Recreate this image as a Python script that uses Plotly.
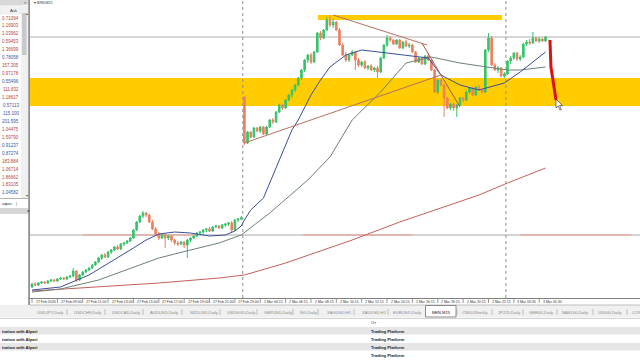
import plotly.graph_objects as go

# ---------------- data: BRN,M15 candles (price in chart points) ----------------
bar_open = [11, 14, 13, 15, 16, 15, 17, 18, 17, 19,
            20, 19, 21, 22, 27, 18, 23, 26, 28, 30,
            33, 36, 40, 43, 41, 46, 48, 51, 49, 54,
            55, 57, 60, 68, 76, 82, 85, 83, 76, 69,
            64, 60, 63, 60, 62, 58, 55, 54, 56, 53,
            58, 60, 62, 65, 66, 68, 69, 67, 71, 72,
            70, 73, 74, 75, 68, 78, 79, 201, 155, 166,
            161, 170, 167, 171, 164, 171, 178, 176, 186, 193,
            190, 198, 203, 208, 213, 220, 228, 238, 243, 236,
            246, 265, 260, 268, 278, 273, 276, 268, 253, 243,
            238, 243, 246, 238, 233, 236, 230, 232, 228, 230,
            226, 240, 253, 260, 258, 254, 258, 250, 256, 252,
            253, 246, 236, 240, 234, 242, 238, 228, 206, 218,
            213, 200, 190, 194, 190, 193, 200, 198, 206, 210,
            203, 211, 208, 206, 248, 260, 233, 228, 230, 222,
            224, 237, 240, 245, 239, 241, 254, 256, 255, 260,
            257, 259, 257]
bar_high = [15, 16, 16, 17, 17, 18, 19, 19, 20, 21,
            21, 22, 23, 30, 28, 24, 27, 29, 31, 34,
            37, 41, 44, 45, 47, 49, 52, 53, 55, 56,
            58, 61, 69, 77, 83, 87, 86, 84, 78, 71,
            66, 65, 64, 63, 63, 59, 57, 57, 57, 59,
            61, 63, 66, 67, 69, 70, 71, 72, 73, 73,
            74, 75, 76, 77, 79, 80, 82, 202, 167, 167,
            171, 171, 172, 172, 172, 179, 180, 187, 194, 194,
            199, 204, 209, 214, 221, 229, 239, 244, 245, 247,
            266, 267, 269, 281, 283, 279, 277, 270, 255, 246,
            244, 248, 247, 240, 237, 238, 233, 234, 231, 232,
            241, 254, 263, 262, 259, 259, 259, 257, 258, 255,
            254, 247, 241, 241, 243, 245, 239, 229, 219, 220,
            214, 201, 195, 195, 194, 201, 201, 207, 211, 211,
            212, 213, 209, 249, 265, 262, 235, 232, 231, 226,
            238, 242, 246, 246, 243, 255, 258, 259, 266, 261,
            261, 260, 262]
bar_low = [10, 12, 12, 14, 14, 14, 16, 16, 16, 18,
           18, 18, 20, 21, 16, 17, 22, 25, 27, 29,
           32, 35, 38, 40, 40, 44, 47, 48, 48, 52,
           54, 56, 59, 67, 75, 80, 81, 75, 68, 63,
           58, 59, 50, 58, 56, 53, 52, 53, 50, 40,
           56, 59, 61, 63, 64, 66, 66, 66, 70, 69,
           69, 71, 72, 66, 67, 76, 78, 153, 154, 160,
           160, 166, 165, 163, 163, 170, 174, 175, 185, 188,
           189, 197, 200, 206, 212, 218, 226, 235, 234, 235,
           245, 258, 259, 267, 271, 270, 267, 252, 242, 236,
           236, 242, 228, 231, 231, 229, 228, 227, 226, 220,
           225, 239, 251, 256, 253, 253, 249, 249, 251, 250,
           245, 235, 235, 233, 233, 237, 227, 205, 204, 212,
           181, 189, 188, 187, 181, 192, 196, 197, 204, 202,
           202, 207, 205, 205, 246, 232, 227, 225, 221, 220,
           223, 234, 238, 237, 237, 240, 252, 253, 254, 256,
           255, 256, 256]
bar_close = [14, 13, 15, 16, 15, 17, 18, 17, 19, 20,
             19, 21, 22, 27, 18, 23, 26, 28, 30, 33,
             36, 40, 43, 41, 46, 48, 51, 49, 54, 55,
             57, 60, 68, 76, 82, 85, 83, 76, 69, 64,
             60, 63, 60, 62, 58, 55, 54, 56, 53, 58,
             60, 62, 65, 66, 68, 69, 67, 71, 72, 70,
             73, 74, 75, 68, 78, 79, 80, 155, 166, 161,
             170, 167, 171, 164, 171, 178, 176, 186, 193, 190,
             198, 203, 208, 213, 220, 228, 238, 243, 236, 246,
             265, 260, 268, 278, 273, 276, 268, 253, 243, 238,
             243, 246, 238, 233, 236, 230, 232, 228, 230, 226,
             240, 253, 260, 258, 254, 258, 250, 256, 252, 253,
             246, 236, 240, 234, 242, 238, 228, 206, 218, 213,
             200, 190, 194, 190, 193, 200, 198, 206, 210, 203,
             211, 208, 206, 248, 260, 233, 228, 230, 222, 224,
             237, 240, 245, 239, 241, 254, 256, 255, 260, 257,
             259, 257, 261]
bar_index = list(range(len(bar_close)))

# moving averages (read at sample bars)
ma_fast_idx = [0, 9, 18, 27, 32, 36, 40, 45, 50, 56, 61, 64, 66, 67, 69, 73, 78, 82, 84, 88,
               91, 94, 99, 104, 112, 118, 125, 129, 135, 141, 149, 154, 162]
ma_fast_val = [8, 11, 23, 40, 50, 58, 64, 66, 65, 62, 63, 67, 72, 78, 88, 100, 138, 168, 178, 203,
               218, 231, 243, 248, 245, 243, 240, 223, 213, 208, 215, 226, 246]
ma_mid_idx = [0, 9, 21, 31, 40, 50, 59, 66, 75, 87, 94, 101, 110, 118, 126, 135, 143, 150, 154, 162]
ma_mid_val = [6, 9, 18, 30, 40, 48, 55, 63, 85, 118, 141, 178, 206, 235, 241, 235, 231, 228, 228, 231]
ma_slow_idx = [0, 21, 40, 59, 67, 80, 89, 101, 116, 129, 141, 150, 162]
ma_slow_val = [7, 11, 15, 20, 23, 35, 45, 58, 76, 90, 103, 115, 130]

# drawn objects
trend_up_idx, trend_up_val = [67, 129], [155, 223]
trend_top_idx, trend_top_val = [95, 124.6], [283, 253]
trend_steep_idx, trend_steep_val = [123, 135], [255, 191]
zone_band = [192, 220]
zone_top_idx, zone_top_val = [90.2, 148.3], [278, 283]
level_gray = 63
level_red_segments = [(16, 52), (85.5, 120), (154, 189)]
arrow_idx = [163.4, 163.7, 165.3]
arrow_val = [258, 231, 198]
session_breaks = [66.5, 149.5]

time_tick_idx = [0, 8, 16, 24, 32, 40, 48, 56, 64, 72, 80, 88, 96, 104, 112, 120, 128, 136, 144, 152, 160]
time_tick_labels = ["27 Feb 2026", "27 Feb 09:00", "27 Feb 11:00", "27 Feb 13:00", "27 Feb 15:00",
                    "27 Feb 17:00", "27 Feb 19:00", "27 Feb 21:00", "27 Feb 23:00", "2 Mar 04:15",
                    "2 Mar 06:15", "2 Mar 08:15", "2 Mar 10:15", "2 Mar 12:15", "2 Mar 14:15",
                    "2 Mar 16:15", "2 Mar 18:15", "2 Mar 20:15", "2 Mar 22:15", "3 Mar 03:30", "3 Mar 05:30"]

watch_prices = ["0.71094", "1.16903", "1.03962", "0.59453", "1.36699", "0.78058", "157.305", "0.97178",
                "0.55496", "111.832", "1.18617", "0.57113", "115.100", "201.595", "1.04475", "1.59790",
                "0.91237", "0.87274", "183.884", "1.06714", "1.86662", "1.83105", "1.04582"]
watch_tick = ["down", "down", "down", "down", "down", "up", "down", "down", "up", "down", "down", "up",
              "up", "up", "down", "down", "up", "up", "down", "down", "down", "down", "up"]

tab_names = ["USDJPY,Daily", "USDCHF,Daily", "USDCAD,Daily", "AUDUSD,Daily", "NZDUSD,Daily",
             "USDSGD,Daily", "GBPUSD,Daily", "NG,Daily", "XAGUSD,H1", "XAUUSD,H1", "EURUSD,Daily",
             "BRN,M15", "CN50,Weekly", "JP225,Daily", "GER40,Daily", "NAS100,Daily", "US500,Daily", "COP"]
active_tab = "BRN,M15"

table_left = ["tration with Alpari", "tration with Alpari", "tration with Alpari", ""]
table_right = ["Trading Platform", "Trading Platform", "Trading Platform", "Trading Platform"]
table_header = "От"

# ---------------- layout helpers ----------------
W, H = 640, 360
def fx(p):
    return p / W
def fy(p):
    return 1 - p / H

PX_PER_BAR = 3.17
X0_PX = 32
x_min = (30 - X0_PX) / PX_PER_BAR
x_max = (640 - X0_PX) / PX_PER_BAR
PLOT_BOTTOM = 298

GREEN = "#35c46a"
RED = "#ee7f5f"
FONT = "Liberation Sans"

fig = go.Figure()
fig.add_trace(go.Candlestick(
    x=bar_index, open=bar_open, high=bar_high, low=bar_low, close=bar_close,
    increasing=dict(line=dict(color=GREEN, width=1), fillcolor=GREEN),
    decreasing=dict(line=dict(color=RED, width=1), fillcolor=RED),
    whiskerwidth=0, showlegend=False, hoverinfo="skip"))

for xs, ys, col, w in [(ma_slow_idx, ma_slow_val, "#c4605a", 1),
                       (ma_mid_idx, ma_mid_val, "#6e8278", 1),
                       (ma_fast_idx, ma_fast_val, "#3a4f9a", 1),
                       (trend_up_idx, trend_up_val, "#b8705f", 1),
                       (trend_top_idx, trend_top_val, "#b8705f", 1),
                       (trend_steep_idx, trend_steep_val, "#a0584a", 1)]:
    fig.add_trace(go.Scatter(x=xs, y=ys, mode="lines", line=dict(color=col, width=w),
                             showlegend=False, hoverinfo="skip"))

# red arrow drawn on chart
fig.add_trace(go.Scatter(x=arrow_idx, y=arrow_val, mode="lines",
                         line=dict(color="#e01010", width=3), showlegend=False, hoverinfo="skip"))

shapes = []
ann = []

# zones
shapes.append(dict(type="rect", xref="paper", yref="y", x0=fx(30), x1=1, y0=zone_band[0], y1=zone_band[1],
                   fillcolor="#ffcc00", line=dict(width=0), layer="below"))
shapes.append(dict(type="rect", xref="x", yref="y", x0=zone_top_idx[0], x1=zone_top_idx[1],
                   y0=zone_top_val[0], y1=zone_top_val[1], fillcolor="#ffcc00", line=dict(width=0), layer="below"))
# levels
shapes.append(dict(type="line", xref="paper", yref="y", x0=fx(30), x1=1, y0=level_gray, y1=level_gray,
                   line=dict(color="#a8a8a8", width=1), layer="below"))
for a, b in level_red_segments:
    shapes.append(dict(type="line", xref="x", yref="y", x0=a, x1=b, y0=level_gray, y1=level_gray,
                       line=dict(color="#ee9a90", width=1), layer="below"))
shapes.append(dict(type="line", xref="paper", yref="y", x0=fx(30), x1=1, y0=bar_close[-1], y1=bar_close[-1],
                   line=dict(color="#b0b0b0", width=1), layer="below"))
# session separators
for s in session_breaks:
    shapes.append(dict(type="line", xref="x", yref="paper", x0=s, x1=s, y0=fy(PLOT_BOTTOM), y1=1,
                       line=dict(color="#909090", width=1, dash="dot"), layer="below"))

# chart frame
shapes.append(dict(type="line", xref="paper", yref="paper", x0=fx(30), x1=1, y0=fy(298.5), y1=fy(298.5),
                   line=dict(color="#808080", width=1)))
shapes.append(dict(type="line", xref="paper", yref="paper", x0=fx(29.5), x1=fx(29.5), y0=fy(305), y1=1,
                   line=dict(color="#909090", width=1)))

# time axis
for k, lab in zip(time_tick_idx, time_tick_labels):
    shapes.append(dict(type="line", xref="x", yref="paper", x0=k, x1=k, y0=fy(299), y1=fy(303),
                       line=dict(color="#555", width=0.6)))
    ann.append(dict(x=k + 0.5, y=fy(302), xref="x", yref="paper", text=lab, showarrow=False,
                    xanchor="left", yanchor="middle", font=dict(family=FONT, size=3.5, color="#333")))

ann.append(dict(x=fx(32), y=fy(3.5), xref="paper", yref="paper", text="▾ BRN,M15", showarrow=False,
                xanchor="left", yanchor="middle", font=dict(family=FONT, size=3.6, color="#333")))

# ---------- left panel (market watch) ----------
shapes.append(dict(type="rect", xref="paper", yref="paper", x0=0, x1=fx(28.5), y0=fy(5), y1=1,
                   fillcolor="#d8d8d8", line=dict(width=0)))
ann.append(dict(x=fx(25), y=fy(2.5), xref="paper", yref="paper", text="×", showarrow=False,
                xanchor="center", yanchor="middle", font=dict(family=FONT, size=4, color="#333")))
shapes.append(dict(type="rect", xref="paper", yref="paper", x0=0, x1=fx(21), y0=fy(14), y1=fy(5.5),
                   fillcolor="#f2f2f2", line=dict(color="#dddddd", width=0.5)))
ann.append(dict(x=fx(19.5), y=fy(10), xref="paper", yref="paper", text="Ask", showarrow=False,
                xanchor="right", yanchor="middle", font=dict(family=FONT, size=4.2, color="#333")))
shapes.append(dict(type="rect", xref="paper", yref="paper", x0=fx(21), x1=fx(28), y0=fy(198), y1=fy(5.5),
                   fillcolor="#f0f0f0", line=dict(width=0)))
shapes.append(dict(type="rect", xref="paper", yref="paper", x0=fx(22), x1=fx(26.5), y0=fy(55), y1=fy(13),
                   fillcolor="#c9c9c9", line=dict(width=0)))
ann.append(dict(x=fx(24), y=fy(9), xref="paper", yref="paper", text="▴", showarrow=False,
                font=dict(family=FONT, size=4, color="#555")))
ann.append(dict(x=fx(24), y=fy(195), xref="paper", yref="paper", text="▾", showarrow=False,
                font=dict(family=FONT, size=4, color="#555")))
for j, (p, t) in enumerate(zip(watch_prices, watch_tick)):
    ann.append(dict(x=fx(20.5), y=fy(18 + 7.95 * j), xref="paper", yref="paper", text=p, showarrow=False,
                    xanchor="right", yanchor="middle",
                    font=dict(family=FONT, size=4.5, color="#3557a8" if t == "up" else "#b8453a")))
shapes.append(dict(type="line", xref="paper", yref="paper", x0=0, x1=fx(28.5), y0=fy(198.5), y1=fy(198.5),
                   line=dict(color="#a0a0a0", width=0.8)))
ann.append(dict(x=0, y=fy(203), xref="paper", yref="paper", text="афон", showarrow=False,
                xanchor="left", yanchor="middle", font=dict(family=FONT, size=4, color="#333")))
ann.append(dict(x=fx(16), y=fy(203), xref="paper", yref="paper", text="|", showarrow=False,
                xanchor="center", yanchor="middle", font=dict(family=FONT, size=4, color="#555")))
shapes.append(dict(type="rect", xref="paper", yref="paper", x0=0, x1=fx(28.5), y0=fy(214), y1=fy(208),
                   fillcolor="#d6d6d6", line=dict(width=0)))
ann.append(dict(x=fx(25), y=fy(211), xref="paper", yref="paper", text="►", showarrow=False,
                font=dict(family=FONT, size=3.5, color="#333")))
shapes.append(dict(type="line", xref="paper", yref="paper", x0=fx(28.5), x1=fx(28.5), y0=fy(305), y1=1,
                   line=dict(color="#a8a8a8", width=1)))

# ---------- tabs ----------
shapes.append(dict(type="rect", xref="paper", yref="paper", x0=0, x1=1, y0=fy(317.5), y1=fy(305),
                   fillcolor="#f0f0f0", line=dict(width=0)))
shapes.append(dict(type="line", xref="paper", yref="paper", x0=fx(30), x1=1, y0=fy(305), y1=fy(305),
                   line=dict(color="#b0b0b0", width=0.8)))
tab_left = [35, 72, 110, 148, 188, 225, 262, 298, 325, 360, 391, 430, 460, 496, 527, 560, 596, 630]
seps = [67, 105, 143, 182, 220, 257, 293, 318, 354, 388, 457, 492, 523, 557, 593, 627]
for s in seps:
    shapes.append(dict(type="line", xref="paper", yref="paper", x0=fx(s), x1=fx(s), y0=fy(315), y1=fy(309),
                       line=dict(color="#a0a0a0", width=0.6)))
shapes.append(dict(type="rect", xref="paper", yref="paper", x0=fx(425.5), x1=fx(456), y0=fy(317), y1=fy(305.5),
                   fillcolor="white", line=dict(color="#707070", width=0.8)))
for name, lx in zip(tab_names, tab_left):
    act = name == active_tab
    ann.append(dict(x=fx(lx), y=fy(312), xref="paper", yref="paper", text=name, showarrow=False,
                    xanchor="left", yanchor="middle",
                    font=dict(family=FONT, size=4.2, color="#222" if act else "#8a8a8a")))

# ---------- bottom table ----------
shapes.append(dict(type="line", xref="paper", yref="paper", x0=0, x1=1, y0=fy(318.5), y1=fy(318.5),
                   line=dict(color="#c8c8c8", width=0.8)))
ann.append(dict(x=fx(369), y=fy(322.5), xref="paper", yref="paper", text=table_header, showarrow=False,
                xanchor="left", yanchor="middle", font=dict(family=FONT, size=4.2, color="#333")))
row_top = [327, 335, 343, 351]
for r, (lt, rt) in enumerate(zip(table_left, table_right)):
    y0 = row_top[r]
    if r % 2 == 0:
        shapes.append(dict(type="rect", xref="paper", yref="paper", x0=0, x1=1, y0=fy(y0 + 7.5), y1=fy(y0),
                           fillcolor="#e6e6e6", line=dict(width=0)))
    if lt:
        ann.append(dict(x=0, y=fy(y0 + 4), xref="paper", yref="paper", text="<b>" + lt + "</b>", showarrow=False,
                        xanchor="left", yanchor="middle", font=dict(family=FONT, size=4.2, color="#222")))
    ann.append(dict(x=fx(369), y=fy(y0 + 4), xref="paper", yref="paper", text="<b>" + rt + "</b>", showarrow=False,
                    xanchor="left", yanchor="middle", font=dict(family=FONT, size=4.2, color="#222")))

# mouse cursor at the arrow tip
cur = [(556, 99), (556, 108), (558.2, 106), (560, 110), (561.3, 109.4), (559.6, 105.6), (562.5, 105.6)]
path = "M " + " L ".join(f"{fx(a):.5f},{fy(b):.5f}" for a, b in cur) + " Z"
shapes.append(dict(type="path", xref="paper", yref="paper", path=path, fillcolor="white",
                   line=dict(color="#222", width=0.6)))

fig.update_layout(
    width=W, height=H, margin=dict(l=0, r=0, t=0, b=0),
    paper_bgcolor="white", plot_bgcolor="white", showlegend=False,
    xaxis=dict(domain=[fx(30), 1], range=[x_min, x_max], showgrid=False, zeroline=False,
               showticklabels=False, ticks="", rangeslider=dict(visible=False), fixedrange=True),
    yaxis=dict(domain=[fy(PLOT_BOTTOM), 1], range=[0, PLOT_BOTTOM], showgrid=False, zeroline=False,
               showticklabels=False, ticks="", fixedrange=True),
    shapes=shapes, annotations=ann,
)

fig.write_html("out.html", config={"displayModeBar": False},
               post_script="document.body.style.margin='0';document.body.style.padding='0';"
                           "document.body.style.overflow='hidden';")
